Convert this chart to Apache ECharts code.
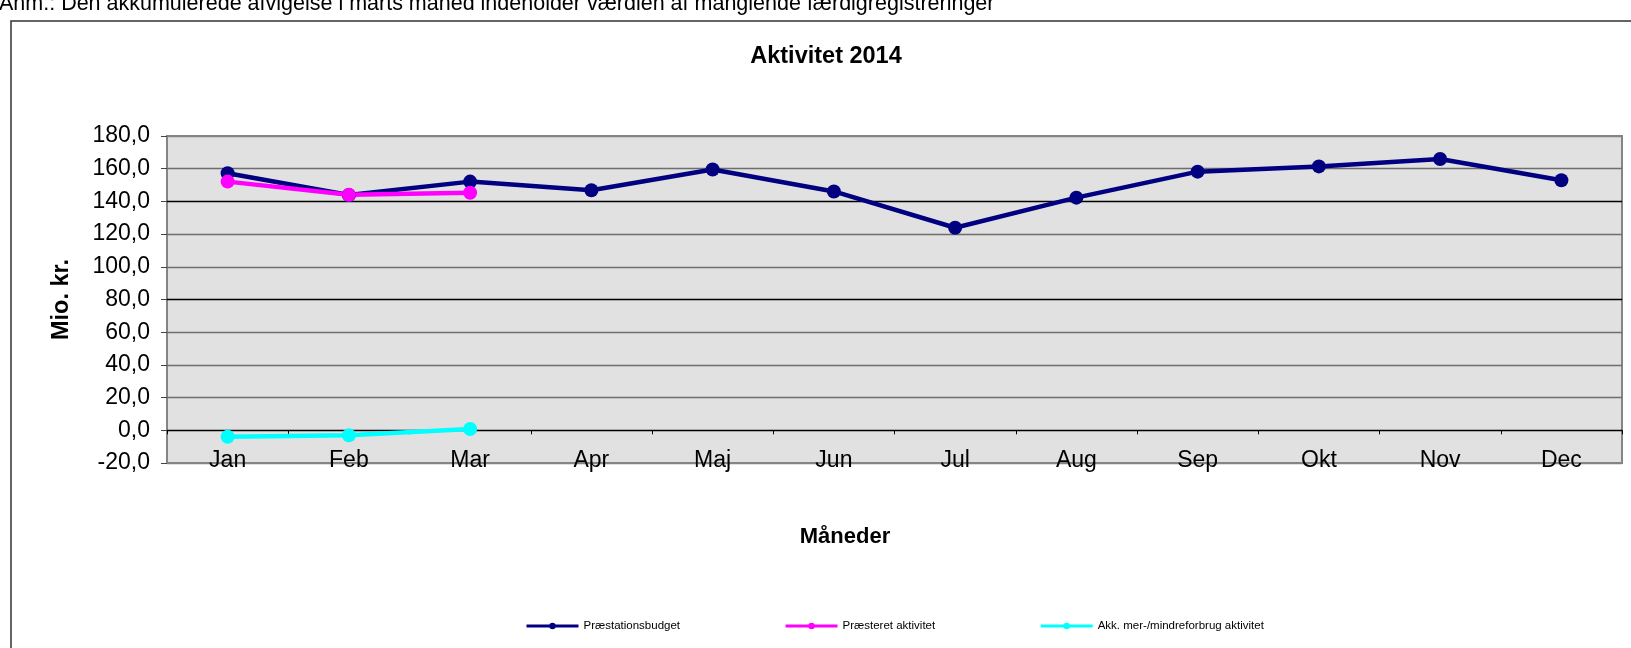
<!DOCTYPE html>
<html>
<head>
<meta charset="utf-8">
<script src="https://cdn.jsdelivr.net/npm/echarts@6/dist/echarts.min.js"></script>
<style>
  html, body { margin: 0; padding: 0; background: #fff; }
  #chart { width: 1631px; height: 648px; }
</style>
</head>
<body>
<div id="chart"></div>
<script>
// måneder på x-aksen
const months = ['Jan', 'Feb', 'Mar', 'Apr', 'Maj', 'Jun', 'Jul', 'Aug', 'Sep', 'Okt', 'Nov', 'Dec'];
// Mio. kr.
const budget = [157.2, 143.9, 152.1, 146.8, 159.5, 146.1, 123.9, 142.3, 158.2, 161.4, 165.9, 152.9];
const realised = [152.1, 144.0, 145.3];
const akkDiff = [-3.9, -3.1, 0.8];
const yTicks = { min: -20, max: 180, step: 20 };

const fontFamily = 'Arial, "Liberation Sans", sans-serif';

const chart = echarts.init(document.getElementById('chart'));

function lineSeries(name, data, color) {
  return {
    name: name,
    type: 'line',
    data: data,
    symbol: 'circle',
    symbolSize: 14,
    showSymbol: true,
    lineStyle: { color: color, width: 4.5 },
    itemStyle: { color: color },
    emphasis: { disabled: true },
    animation: false
  };
}

chart.setOption({
  animation: false,
  title: {
    text: 'Aktivitet 2014',
    left: 821,
    top: 40,
    textAlign: 'center',
    textStyle: { fontFamily: fontFamily, fontSize: 23.5, fontWeight: 'bold', color: '#000' }
  },
  legend: {
    left: 525,
    top: 620,
    padding: 0,
    itemWidth: 52,
    itemHeight: 8,
    itemGap: 104,
    lineStyle: { width: 3 },
    textStyle: { fontFamily: fontFamily, fontSize: 11.5, color: '#000' },
    data: ['Præstationsbudget', 'Præsteret aktivitet', 'Akk. mer-/mindreforbrug aktivitet']
  },
  grid: {
    left: 167,
    right: 9,
    top: 136,
    bottom: 185,
    show: true,
    backgroundColor: '#e1e1e1',
    borderColor: '#858585',
    borderWidth: 2
  },
  xAxis: {
    type: 'category',
    data: months,
    boundaryGap: true,
    // aksen ligger ved 0, ikke ved bunden
    offset: -32.7,
    axisLine: { onZero: false, lineStyle: { color: '#000', width: 1 } },
    axisTick: { show: true, length: 4, lineStyle: { color: '#000' } },
    axisLabel: { interval: 0, margin: 19, fontFamily: fontFamily, fontSize: 23, color: '#000' },
    splitLine: { show: false }
  },
  yAxis: {
    type: 'value',
    min: yTicks.min,
    max: yTicks.max,
    interval: yTicks.step,
    name: 'Mio. kr.',
    nameLocation: 'middle',
    nameGap: 93,
    nameRotate: 90,
    nameTextStyle: { fontFamily: fontFamily, fontSize: 23.5, fontWeight: 'bold', color: '#000' },
    axisLine: { show: false },
    axisTick: { show: true, length: 6, lineStyle: { color: '#444' } },
    axisLabel: {
      margin: 17,
      fontFamily: fontFamily,
      fontSize: 23,
      color: '#000',
      formatter: v => v.toFixed(1).replace('.', ',')
    },
    splitLine: {
      show: true,
      lineStyle: {
        width: 1.3,
        color: ['#858585', '#000', '#6e6e6e', '#6e6e6e', '#6e6e6e', '#000', '#6e6e6e', '#6e6e6e', '#000', '#6e6e6e', '#858585']
      }
    }
  },
  graphic: [
    {
      type: 'rect',
      shape: { x: 11, y: 21, width: 1700, height: 700 },
      style: { fill: 'none', stroke: '#333', lineWidth: 1.5 },
      silent: true,
      z: -10
    },
    {
      type: 'text',
      x: -1,
      y: 15,
      style: {
        text: 'Anm.: Den akkumulerede afvigelse i marts måned indeholder værdien af manglende færdigregistreringer',
        fontFamily: fontFamily,
        fontSize: 21.5,
        fill: '#000',
        textVerticalAlign: 'bottom'
      }
    },
    {
      type: 'text',
      x: 845,
      y: 526,
      style: {
        text: 'Måneder',
        fontFamily: fontFamily,
        fontSize: 22,
        fontWeight: 'bold',
        fill: '#000',
        textAlign: 'center'
      }
    }
  ],
  series: [
    lineSeries('Præstationsbudget', budget, '#000080'),
    lineSeries('Præsteret aktivitet', realised, '#ff00ff'),
    lineSeries('Akk. mer-/mindreforbrug aktivitet', akkDiff, '#00ffff')
  ]
});

window.addEventListener('resize', () => chart.resize());
</script>
</body>
</html>
